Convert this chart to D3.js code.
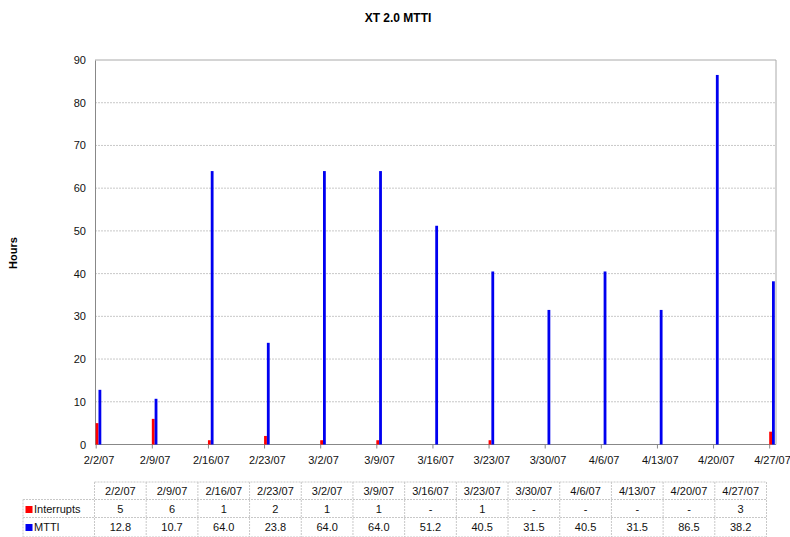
<!DOCTYPE html>
<html>
<head>
<meta charset="utf-8">
<script src="https://cdn.jsdelivr.net/npm/d3@7"></script>
<style>
  body { margin: 0; background: #fff; }
  svg { font-family: "Liberation Sans", Arial, sans-serif; }
</style>
</head>
<body>
<div id="chart"></div>
<script>
var weeks = ["2/2/07", "2/9/07", "2/16/07", "2/23/07", "3/2/07", "3/9/07", "3/16/07",
             "3/23/07", "3/30/07", "4/6/07", "4/13/07", "4/20/07", "4/27/07"];
var interrupts = [5, 6, 1, 2, 1, 1, null, 1, null, null, null, null, 3];
var mtti = [12.8, 10.7, 64.0, 23.8, 64.0, 64.0, 51.2, 40.5, 31.5, 40.5, 31.5, 86.5, 38.2];
var yTicks = [0, 10, 20, 30, 40, 50, 60, 70, 80, 90];

var w = 790, h = 537;
var plotLeft = 95, plotRight = 776, plotTop = 60, plotBottom = 444.5;
var barW = 2.8;

var svg = d3.select("#chart").append("svg")
    .attr("width", w)
    .attr("height", h);

var x = d3.scalePoint().domain(weeks).range([98.5, 772]);
var y = d3.scaleLinear().domain([0, 90]).range([plotBottom, plotTop]);

// title
svg.append("text")
    .attr("x", 398).attr("y", 22)
    .attr("text-anchor", "middle")
    .attr("font-size", "12px").attr("font-weight", "bold")
    .text("XT 2.0 MTTI");

// y axis label
svg.append("text")
    .attr("transform", "translate(17,253) rotate(-90)")
    .attr("text-anchor", "middle")
    .attr("font-size", "11px").attr("font-weight", "bold")
    .text("Hours");

// gridlines
svg.append("g").selectAll("line")
    .data(yTicks.filter(function(d) { return d > 0 && d < 90; }))
    .enter().append("line")
    .attr("x1", plotLeft).attr("x2", plotRight)
    .attr("y1", function(d) { return y(d); })
    .attr("y2", function(d) { return y(d); })
    .attr("stroke", "#c8c8c8").attr("stroke-dasharray", "2,1");

// plot frame (top / right)
svg.append("path")
    .attr("d", "M" + plotLeft + "," + plotTop + "H" + plotRight + "V" + plotBottom)
    .attr("fill", "none").attr("stroke", "#aaa");

// y axis
var yAxis = svg.append("g")
    .attr("transform", "translate(" + plotLeft + ",0)")
    .call(d3.axisLeft(y).tickValues(yTicks).tickSize(0).tickPadding(9));
yAxis.select(".domain").attr("stroke", "#888");
yAxis.selectAll("text").attr("font-size", "11px").attr("fill", "#111")
    .attr("font-family", "Liberation Sans, Arial, sans-serif");

// x axis
var xAxis = svg.append("g")
    .attr("transform", "translate(0," + plotBottom + ")")
    .call(d3.axisBottom(x).tickSize(0).tickPadding(12));
xAxis.select(".domain").attr("d", "M" + plotLeft + ",0H" + plotRight).attr("stroke", "#888");
xAxis.selectAll("text").attr("font-size", "11px").attr("fill", "#111")
    .attr("font-family", "Liberation Sans, Arial, sans-serif");
xAxis.selectAll(".tick").append("line")
    .attr("x1", -2.8).attr("x2", -2.8).attr("y1", 0).attr("y2", 4)
    .attr("stroke", "#888");

// bars
svg.append("g").selectAll("rect")
    .data(weeks.map(function(d, i) { return { k: d, v: interrupts[i] }; })
               .filter(function(d) { return d.v != null; }))
    .enter().append("rect")
    .attr("x", function(d) { return x(d.k) - barW; })
    .attr("y", function(d) { return y(d.v); })
    .attr("width", barW)
    .attr("height", function(d) { return plotBottom - y(d.v); })
    .attr("fill", "#ff0000");

svg.append("g").selectAll("rect")
    .data(weeks.map(function(d, i) { return { k: d, v: mtti[i] }; }))
    .enter().append("rect")
    .attr("x", function(d) { return x(d.k); })
    .attr("y", function(d) { return y(d.v); })
    .attr("width", barW)
    .attr("height", function(d) { return plotBottom - y(d.v); })
    .attr("fill", "#0000f0");

// data table
var col = d3.scaleBand().domain(weeks).range([94.5, 766.5]);
var rowTops = [482, 499.5, 517.5, 537];
var tableLeft = 23;
var t = svg.append("g")
    .attr("font-size", "11px").attr("fill", "#111");
var gridStyle = function(sel) {
    sel.attr("stroke", "#c8c8c8").attr("stroke-dasharray", "2,1").attr("fill", "none");
};

// horizontal lines
t.append("line").attr("x1", col.range()[0]).attr("x2", col.range()[1])
    .attr("y1", rowTops[0]).attr("y2", rowTops[0]).call(gridStyle);
[1, 2, 3].forEach(function(r) {
    t.append("line").attr("x1", tableLeft).attr("x2", col.range()[1])
        .attr("y1", rowTops[r]).attr("y2", rowTops[r]).call(gridStyle);
});
// vertical lines
t.append("line").attr("x1", tableLeft).attr("x2", tableLeft)
    .attr("y1", rowTops[1]).attr("y2", rowTops[3]).call(gridStyle);
weeks.concat(["end"]).forEach(function(d, i) {
    var xx = i < weeks.length ? col(d) : col.range()[1];
    t.append("line").attr("x1", xx).attr("x2", xx)
        .attr("y1", rowTops[0]).attr("y2", rowTops[3]).call(gridStyle);
});

// header
t.selectAll("text.hdr").data(weeks).enter().append("text")
    .attr("class", "hdr")
    .attr("x", function(d) { return col(d) + col.bandwidth() / 2; })
    .attr("y", rowTops[0] + 13)
    .attr("text-anchor", "middle")
    .text(function(d) { return d; });

t.selectAll("text.intr").data(interrupts).enter().append("text")
    .attr("class", "intr")
    .attr("x", function(d, i) { return col(weeks[i]) + col.bandwidth() / 2; })
    .attr("y", rowTops[1] + 13)
    .attr("text-anchor", "middle")
    .text(function(d) { return d == null ? "-" : d; });

t.selectAll("text.mtti").data(mtti).enter().append("text")
    .attr("class", "mtti")
    .attr("x", function(d, i) { return col(weeks[i]) + col.bandwidth() / 2; })
    .attr("y", rowTops[2] + 13.5)
    .attr("text-anchor", "middle")
    .text(function(d) { return d.toFixed(1); });

// legend keys
var legend = [{ name: "Interrupts", color: "#ff0000" }, { name: "MTTI", color: "#0000f0" }];
legend.forEach(function(d, i) {
    t.append("rect").attr("x", 25.5).attr("y", rowTops[i + 1] + 6.5)
        .attr("width", 7).attr("height", 7).attr("fill", d.color);
    t.append("text").attr("x", 34).attr("y", rowTops[i + 1] + 13.5)
        .text(d.name);
});
</script>
</body>
</html>
